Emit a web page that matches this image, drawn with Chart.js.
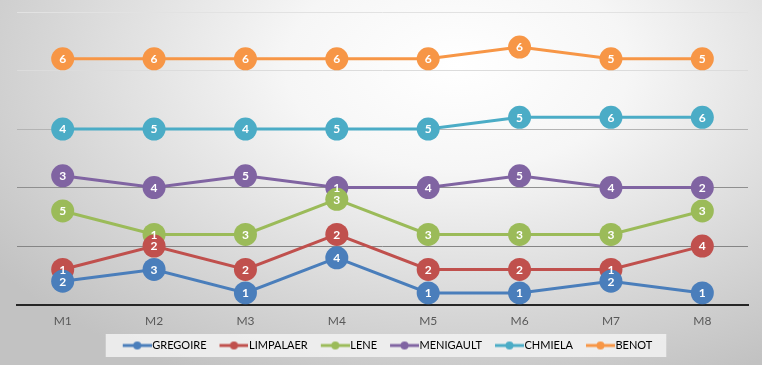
<!DOCTYPE html>
<html>
<head>
<meta charset="utf-8">
<script src="https://cdn.jsdelivr.net/npm/chart.js@4"></script>
<style>
  html, body { margin: 0; padding: 0; }
  body {
    width: 762px; height: 365px; overflow: hidden;
    background: radial-gradient(ellipse 75% 95% at 60% 18%, #ffffff 0%, #f6f6f6 30%, #d6d6d6 72%, #c2c2c2 100%);
  }
  #wrap { position: relative; width: 762px; height: 365px; }
</style>
</head>
<body>
<div id="wrap"><canvas id="rankChart"></canvas></div>
<script>
// Monthly ranking chart — one line per person, rank shown inside each marker

const MONTHS = ['M1', 'M2', 'M3', 'M4', 'M5', 'M6', 'M7', 'M8'];

// Vertical position of each marker (hidden axis, 0..25)
const GREGOIRE = [2, 3, 1, 4, 1, 1, 2, 1];
const LIMPALAER = [3, 5, 3, 6, 3, 3, 3, 5];
const LENE = [8, 6, 6, 9, 6, 6, 6, 8];
const MENIGAULT = [11, 10, 11, 10, 10, 11, 10, 10];
const CHMIELA = [15, 15, 15, 15, 15, 16, 16, 16];
const BENOT = [21, 21, 21, 21, 21, 22, 21, 21];

// Number printed in each marker
const GREGOIRE_RANK = [2, 3, 1, 4, 1, 1, 2, 1];
const LIMPALAER_RANK = [1, 2, 2, 2, 2, 2, 1, 4];
const LENE_RANK = [5, 1, 3, 3, 3, 3, 3, 3];
const MENIGAULT_RANK = [3, 4, 5, 1, 4, 5, 4, 2];
const CHMIELA_RANK = [4, 5, 4, 5, 5, 5, 6, 6];
const BENOT_RANK = [6, 6, 6, 6, 6, 6, 5, 5];

const Y_MIN = 0;
const Y_MAX = 25;
const Y_STEP = 5;

// Office palette
const COLORS = {
  blue: '#4a7ebb',
  red: '#c0504d',
  green: '#9bbb59',
  purple: '#8064a2',
  teal: '#4bacc6',
  orange: '#f79646',
};

// grid lines get lighter toward the top, like the original
const GRID_COLORS = { 0: 'rgba(0,0,0,0)', 5: '#858585', 10: '#8f8f8f', 15: '#b4b4b4', 20: '#dcdcdc', 25: '#e2e2e2' };

const FONT = 'Lato, "Open Sans", sans-serif';

// ── Helpers ────────────────────────────────────────────────

// line-with-dot swatch for the legend; blank on the left gives the gap between items
function legendSwatch(color) {
  const c = document.createElement('canvas');
  c.width = 44;
  c.height = 10;
  const ctx = c.getContext('2d');
  ctx.strokeStyle = color;
  ctx.lineWidth = 3;
  ctx.beginPath();
  ctx.moveTo(15, 5);
  ctx.lineTo(44, 5);
  ctx.stroke();
  ctx.fillStyle = color;
  ctx.beginPath();
  ctx.arc(29.5, 5, 4, 0, Math.PI * 2);
  ctx.fill();
  return c;
}

function series(label, data, ranks, color) {
  return {
    label,
    data,
    ranks,
    borderColor: color,
    backgroundColor: color,
    pointBackgroundColor: color,
    pointBorderWidth: 0,
    pointRadius: 11.5,
    pointHoverRadius: 11.5,
    borderWidth: 3,
    tension: 0,
    swatch: legendSwatch(color),
  };
}

// ── Plugins ────────────────────────────────────────────────

// white rank numbers, drawn after every line so they sit on top
const rankLabels = {
  id: 'rankLabels',
  afterDatasetsDraw(chart) {
    const ctx = chart.ctx;
    ctx.save();
    ctx.font = 'bold 12px ' + FONT;
    ctx.fillStyle = '#ffffff';
    ctx.textAlign = 'center';
    ctx.textBaseline = 'middle';
    chart.data.datasets.forEach((ds, i) => {
      chart.getDatasetMeta(i).data.forEach((pt, j) => {
        ctx.fillText(String(ds.ranks[j]), pt.x, pt.y + 0.5);
      });
    });
    ctx.restore();
  },
};

// light box behind the legend
const legendBox = {
  id: 'legendBox',
  beforeDraw(chart) {
    const boxes = chart.legend && chart.legend.legendHitBoxes;
    if (!boxes || !boxes.length) return;
    const left = Math.min(...boxes.map(b => b.left)) - 7;
    const right = Math.max(...boxes.map(b => b.left + b.width)) + 14;
    const mid = boxes[0].top + boxes[0].height / 2;
    const ctx = chart.ctx;
    ctx.save();
    ctx.fillStyle = 'rgba(242,242,242,0.85)';
    ctx.fillRect(left, mid - 11.5, right - left, 23);
    ctx.restore();
  },
};

// ── Chart ──────────────────────────────────────────────────

new Chart(document.getElementById('rankChart'), {
  type: 'line',
  data: {
    labels: MONTHS,
    datasets: [
      series('GREGOIRE', GREGOIRE, GREGOIRE_RANK, COLORS.blue),
      series('LIMPALAER', LIMPALAER, LIMPALAER_RANK, COLORS.red),
      series('LENE', LENE, LENE_RANK, COLORS.green),
      series('MENIGAULT', MENIGAULT, MENIGAULT_RANK, COLORS.purple),
      series('CHMIELA', CHMIELA, CHMIELA_RANK, COLORS.teal),
      series('BENOT', BENOT, BENOT_RANK, COLORS.orange),
    ],
  },
  options: {
    responsive: true,
    maintainAspectRatio: false,
    animation: false,
    events: [],
    layout: { padding: { left: 17, right: 14, top: 12, bottom: 4 } },
    plugins: {
      tooltip: { enabled: false },
      legend: {
        position: 'bottom',
        labels: {
          usePointStyle: true,
          pointStyleWidth: 34,
          padding: 3,
          color: '#404040',
          font: { family: FONT, size: 11 },
          generateLabels(chart) {
            return chart.data.datasets.map((ds, i) => ({
              text: ds.label,
              pointStyle: ds.swatch,
              fillStyle: ds.borderColor,
              strokeStyle: ds.borderColor,
              lineWidth: 0,
              hidden: false,
              datasetIndex: i,
            }));
          },
        },
      },
    },
    scales: {
      x: {
        offset: true,
        grid: { display: false, drawTicks: false },
        border: { display: true, color: '#262626', width: 2 },
        ticks: { color: '#595959', padding: 9, font: { family: FONT, size: 12 } },
      },
      y: {
        min: Y_MIN,
        max: Y_MAX,
        ticks: { display: false, stepSize: Y_STEP },
        border: { display: false },
        grid: {
          drawTicks: false,
          lineWidth: 1,
          color: c => GRID_COLORS[c.tick.value] || '#cccccc',
        },
      },
    },
  },
  plugins: [rankLabels, legendBox],
});
</script>
</body>
</html>
